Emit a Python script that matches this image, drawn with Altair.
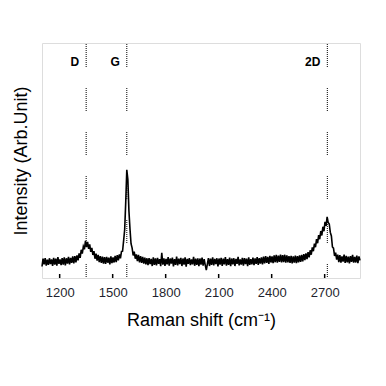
import altair as alt
import pandas as pd

# Raman shift sampling grid (cm^-1) and intensity (arb. units)
shift = list(range(1100, 2901, 6))
intensity = [
    4.9, 8.2, 5.8, 8.5, 5.3, 7.8, 5.6, 8.4, 5.9, 7.9,
    5.2, 8.6, 5.7, 8.2, 5.3, 8.9, 6.0, 7.9, 5.5, 8.5,
    5.7, 8.8, 5.4, 8.4, 6.1, 9.0, 5.8, 8.6, 6.4, 9.2,
    6.2, 9.3, 6.6, 9.6, 7.5, 10.5, 8.6, 12.0, 10.4, 13.4,
    12.2, 15.8, 13.1, 15.4, 12.4, 14.3, 11.1, 12.8, 9.8, 11.4,
    8.2, 10.4, 7.4, 9.8, 6.8, 9.3, 6.4, 9.1, 6.1, 8.9,
    6.0, 9.0, 6.5, 8.7, 5.8, 9.2, 6.3, 8.8, 6.6, 9.4,
    6.8, 9.7, 7.5, 10.0, 8.4, 11.3, 11.4, 15.9, 20.6, 32.4,
    46.0, 41.9, 28.6, 20.9, 14.6, 12.8, 9.6, 11.2, 8.2, 10.0,
    7.2, 9.8, 6.6, 9.3, 6.4, 9.0, 6.1, 8.7, 5.8, 8.4,
    5.5, 8.5, 5.9, 8.1, 5.1, 8.8, 5.6, 8.3, 5.4, 8.6,
    6.0, 8.0, 5.0, 10.7, 5.7, 8.4, 5.2, 8.1, 5.8, 8.9,
    5.3, 8.3, 6.1, 8.7, 4.9, 8.0, 5.6, 9.1, 5.4, 8.2,
    5.9, 8.6, 5.1, 8.3, 5.7, 8.8, 4.8, 8.1, 6.0, 8.5,
    5.5, 7.9, 5.8, 9.0, 5.2, 8.2, 5.6, 8.4, 5.0, 8.3,
    5.7, 8.7, 5.3, 8.0, 5.5, 3.4, 5.9, 8.5, 5.1, 8.2,
    5.6, 8.8, 5.4, 8.1, 5.9, 8.4, 4.9, 8.3, 5.7, 8.6,
    5.2, 8.2, 5.8, 8.9, 5.3, 8.0, 5.6, 8.7, 5.0, 8.3,
    5.8, 8.4, 5.1, 8.1, 6.0, 9.0, 5.4, 7.9, 5.7, 8.6,
    5.3, 8.5, 5.9, 8.2, 5.0, 8.8, 5.6, 8.0, 5.8, 8.7,
    5.5, 8.3, 6.0, 8.9, 5.6, 8.5, 6.1, 8.8, 5.8, 9.1,
    6.2, 9.3, 6.4, 9.0, 6.0, 9.4, 6.6, 9.2, 6.3, 9.6,
    6.7, 9.8, 6.5, 9.5, 6.9, 10.0, 6.6, 9.7, 6.8, 9.9,
    6.5, 9.6, 6.7, 9.3, 6.4, 9.4, 6.2, 9.2, 6.5, 9.5,
    6.3, 9.3, 6.6, 9.6, 6.9, 9.8, 7.1, 10.2, 7.6, 10.5,
    8.0, 11.0, 8.8, 11.8, 9.9, 13.0, 11.4, 14.6, 13.1, 16.5,
    14.8, 18.2, 16.5, 20.0, 18.1, 21.8, 19.9, 23.9, 22.2, 26.0,
    23.6, 23.0, 19.4, 17.9, 13.2, 12.7, 9.4, 10.8, 7.8, 9.9,
    6.8, 9.7, 6.5, 9.2, 7.0, 10.0, 6.4, 9.4, 6.7, 9.1,
    6.2, 9.3, 6.9, 9.8, 6.5, 9.0, 6.6, 9.5, 6.3, 9.2,
    7.5,
]

peak_names = ["D", "G", "2D"]
peak_pos = [1350, 1580, 2715]
tick_vals = [1200, 1500, 1800, 2100, 2400, 2700]

spec = pd.DataFrame({"shift": shift, "intensity": intensity})
peaks = pd.DataFrame({"name": peak_names, "pos": peak_pos})
ticks = pd.DataFrame({"t": tick_vals})

W, H = 318, 235
xs = alt.Scale(domain=[1100, 2900], nice=False, zero=False)
ys = alt.Scale(domain=[0, 100], nice=False)

line = alt.Chart(spec).mark_line(color="black", strokeWidth=1.6).encode(
    x=alt.X("shift:Q", scale=xs,
            axis=alt.Axis(values=tick_vals, format="d", title="Raman shift (cm⁻¹)", ticks=False,
                          domain=False, grid=False, labelFontSize=13, labelColor="#1f1f2e",
                          labelFont="Liberation Sans", labelPadding=8,
                          titleFont="Liberation Sans", titleFontSize=18,
                          titleFontWeight="normal", titleColor="black", titlePadding=12)),
    y=alt.Y("intensity:Q", scale=ys,
            axis=alt.Axis(labels=False, ticks=False, domain=False, grid=False,
                          title="Intensity (Arb.Unit)", titleFont="Liberation Sans",
                          titleFontSize=18, titleFontWeight="normal", titleColor="black",
                          titlePadding=12)),
)

dash = [1, 1] * 12
dash[-1] = 21
vlines = alt.Chart(peaks).mark_rule(color="black", strokeWidth=1, strokeDash=dash).encode(
    x=alt.X("pos:Q", scale=xs),
    y=alt.value(1),
    y2=alt.value(H),
)

labels = alt.Chart(peaks).mark_text(
    font="Liberation Sans", fontSize=12, fontWeight="bold", align="right",
    baseline="middle", dx=-7, color="black",
).encode(x=alt.X("pos:Q", scale=xs), y=alt.value(19), text="name:N")

tickmarks = alt.Chart(ticks).mark_rule(color="black", strokeWidth=1.5).encode(
    x=alt.X("t:Q", scale=xs), y=alt.value(H - 4), y2=alt.value(H),
)

chart = alt.layer(line, vlines, labels, tickmarks).properties(
    width=W, height=H,
    autosize=alt.AutoSizeParams(type="none"),
    padding={"left": 34, "top": 35, "right": 18, "bottom": 70},
).configure_view(stroke="black", strokeWidth=2).configure(background="white")

chart.save("out.html", embed_options={"renderer": "svg", "actions": False})
